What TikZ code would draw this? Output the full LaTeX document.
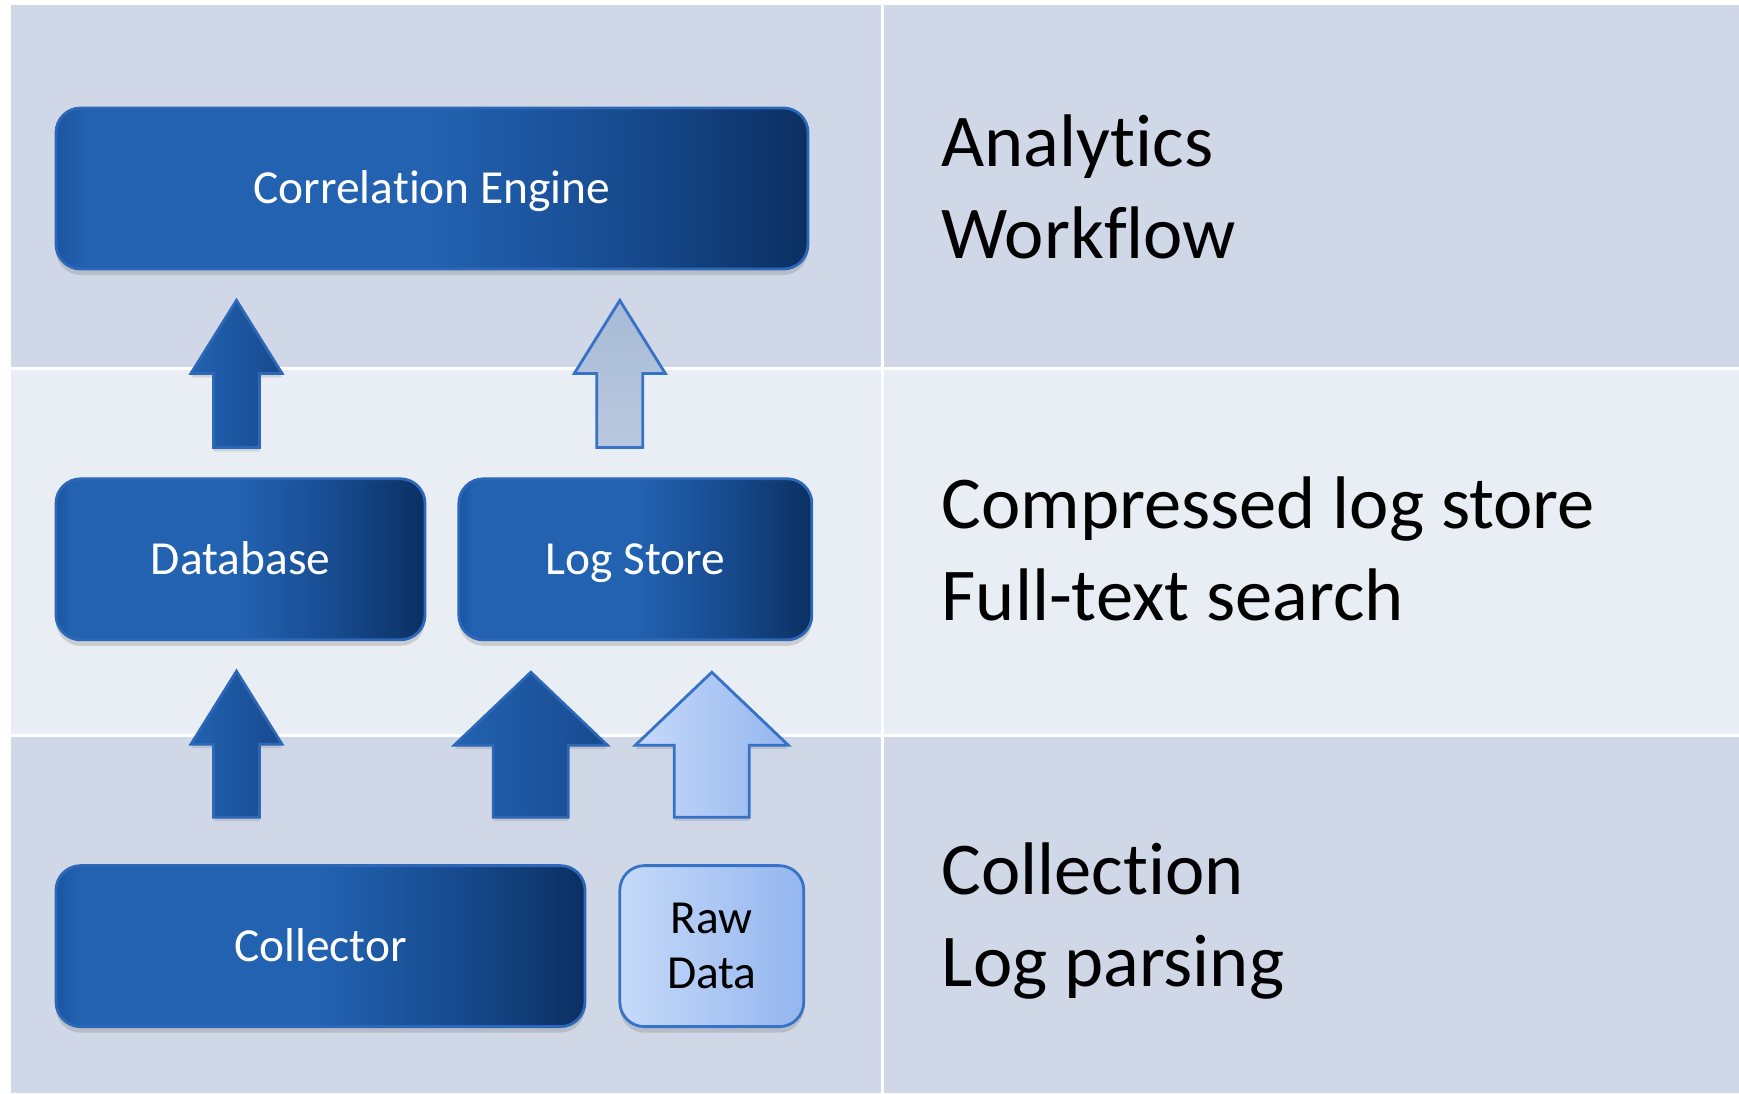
\documentclass[tikz,border=0pt]{standalone}
\usepackage{fontspec}
\setmainfont{Carlito}[Ligatures=NoCommon]
\usetikzlibrary{positioning, calc, shadows}

\definecolor{banddark}{HTML}{D0D8E8}
\definecolor{bandlight}{HTML}{E9EDF4}
\definecolor{boxbevel}{HTML}{1A55A0}
\definecolor{boxleft}{HTML}{2262B1}
\definecolor{boxmid}{HTML}{174A8E}
\definecolor{boxright}{HTML}{0B3062}
\definecolor{boxedge}{HTML}{2C67B8}
\definecolor{rawleft}{HTML}{C6DAF9}
\definecolor{rawright}{HTML}{94B6EF}
\definecolor{rawedge}{HTML}{3572C8}
\definecolor{fadeleft}{HTML}{B8C8DE}
\definecolor{faderight}{HTML}{A8BAD6}

\pgfdeclarehorizontalshading{panelshade}{100bp}{color(0bp)=(boxbevel); color(25bp)=(boxbevel);
  color(27bp)=(boxleft); color(50bp)=(boxleft); color(63bp)=(boxmid); color(75bp)=(boxright);
  color(100bp)=(boxright)}

\begin{document}
\begin{tikzpicture}[
  panel/.style={draw=boxedge, line width=0.8pt, rounded corners=7pt, minimum height=1.61cm,
              align=center, text=white, font=\fontsize{13.5}{15.6}\selectfont,
              drop shadow={shadow xshift=0pt, shadow yshift=-0.06cm, opacity=0.3}},
  box/.style={panel, shade, shading=panelshade, text height=2ex, text depth=0.2ex},
  rawbox/.style={panel, text=black, left color=rawleft, right color=rawright, draw=rawedge},
  tier/.style={anchor=base west, inner sep=0pt, align=left, font=\fontsize{21.2}{25.9}\selectfont},
  thinarrow/.style={to path={let \p1=(\tikztostart), \p2=(\tikztotarget) in
      (\x1-0.23cm,\y1) -- (\x1-0.23cm,\y2-0.73cm) -- (\x1-0.455cm,\y2-0.73cm) -- (\x1,\y2)
      -- (\x1+0.455cm,\y2-0.73cm) -- (\x1+0.23cm,\y2-0.73cm) -- (\x1+0.23cm,\y1) -- cycle}},
  widearrow/.style={to path={let \p1=(\tikztostart), \p2=(\tikztotarget) in
      (\x1-0.375cm,\y1) -- (\x1-0.375cm,\y2-0.73cm) -- (\x1-0.765cm,\y2-0.73cm) -- (\x1,\y2)
      -- (\x1+0.765cm,\y2-0.73cm) -- (\x1+0.375cm,\y2-0.73cm) -- (\x1+0.375cm,\y1) -- cycle}},
  darkflow/.style={draw=boxedge, line width=0.8pt, left color=boxleft, right color=boxmid,
                   drop shadow={shadow xshift=0pt, shadow yshift=-0.04cm, opacity=0.25}},
  rawflow/.style={draw=rawedge, line width=0.8pt, left color=rawleft, right color=rawright,
                  drop shadow={shadow xshift=0pt, shadow yshift=-0.04cm, opacity=0.25}},
  fadeflow/.style={draw=rawedge, line width=0.8pt, top color=faderight, bottom color=fadeleft}
]
\useasboundingbox (0,0) rectangle (17.39,10.93);
\fill[white] (0,0) rectangle (17.39,10.93);
%% BANDS
\fill[banddark]  (0.11,7.25) rectangle (17.39,10.88);
\fill[bandlight] (0.11,3.58) rectangle (17.39,7.25);
\fill[banddark]  (0.11,0)    rectangle (17.39,3.58);
\draw[white, line width=0.03cm] (0.11,7.25) -- (17.39,7.25) (0.11,3.58) -- (17.39,3.58)
  (8.82,0) -- (8.82,10.88);
%% BOXES
\node[box, minimum width=7.52cm] (ce) at (4.32,9.045) {Correlation Engine};
\node[box, minimum width=3.69cm, below=2.07cm of ce.south west, anchor=north west] (db) {Database};
\node[box, minimum width=3.53cm, right=0.31cm of db] (ls) {Log Store};
\node[box, minimum width=5.29cm, below=2.23cm of db.south west, anchor=north west] (col) {Collector};
\node[rawbox, minimum width=1.84cm, right=0.32cm of col] (raw) {Raw\\Data};
%% FLOWS
\draw[darkflow, thinarrow] ($(db.north)+(-0.04,0.3)$) to ($(ce.south)+(0,-0.3)$);
\draw[fadeflow, thinarrow] ($(ls.north)+(-0.155,0.3)$) to ($(ce.south)+(0,-0.3)$);
\draw[darkflow, thinarrow] ($(db.south |- col.north)+(-0.04,0.47)$) to ($(db.south)+(0,-0.3)$);
\draw[darkflow, widearrow] ($(ls.south |- col.north)+(-1.045,0.47)$) to ($(ls.south)+(0,-0.31)$);
\draw[rawflow, widearrow] ($(raw.north)+(0,0.47)$) to ($(ls.south)+(0,-0.31)$);
%% TIERS
\node[tier] (analytics)  at (9.41,8.35) {Analytics\\Workflow};
\node[tier] (storage)    at (9.41,4.73) {Compressed log store\\Full-text search};
\node[tier] (collection) at (9.41,1.07) {Collection\\Log parsing};
\end{tikzpicture}
\end{document}
